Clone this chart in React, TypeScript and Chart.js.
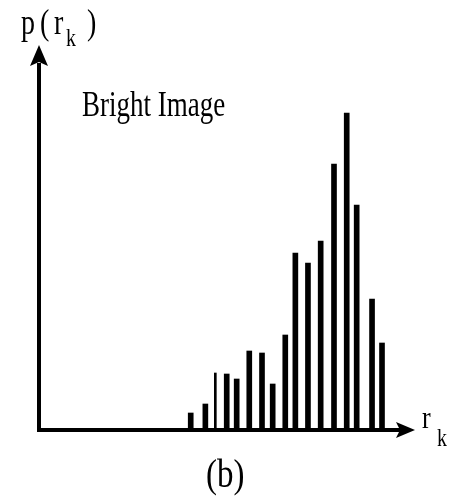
import React, { useEffect, useRef } from "react";
import { Chart, registerables } from "chart.js";

Chart.register(...registerables);

// Grey levels r_k (arbitrary units along the horizontal axis)
const levels = [12.56, 13.78, 14.61, 15.56, 16.39, 17.44, 18.5, 19.39, 20.44, 21.28, 22.33, 23.39, 24.5, 25.56, 26.39, 27.67, 28.5];
// Histogram heights p(r_k) (arbitrary units)
const probs = [17, 26, 57, 56, 51, 79, 77, 46, 95, 177, 167, 189, 266, 317, 225, 131, 87];
// Which bar is drawn thin
const thinIndex = [2];

const xMax = 31.25;
const yMax = 385;

const titleText = "Bright Image";
const captionText = "(b)";

const SERIF = '"Liberation Serif", "Times New Roman", serif';

function drawText(ctx: CanvasRenderingContext2D, text: string, x: number, y: number, size: number, sy: number) {
  ctx.save();
  ctx.translate(x, y);
  ctx.scale(1, sy);
  ctx.font = `${size}px ${SERIF}`;
  ctx.textAlign = "left";
  ctx.textBaseline = "alphabetic";
  ctx.fillStyle = "#000";
  ctx.fillText(text, 0, 0);
  ctx.restore();
}

const decorPlugin = {
  id: "decor",
  afterDatasetsDraw(chart: any) {
    const ctx: CanvasRenderingContext2D = chart.ctx;
    const xs = chart.scales.x;
    const ys = chart.scales.y;
    const x0 = xs.getPixelForValue(0);
    const y0 = ys.getPixelForValue(0);
    const xEnd = xs.getPixelForValue(xMax);
    const yTop = ys.getPixelForValue(yMax);
    ctx.save();
    ctx.fillStyle = "#000";
    ctx.strokeStyle = "#000";
    ctx.lineWidth = 4;
    ctx.lineCap = "butt";
    // y axis
    ctx.beginPath();
    ctx.moveTo(x0 - 1, y0 + 2);
    ctx.lineTo(x0 - 1, yTop + 18);
    ctx.stroke();
    // x axis
    ctx.beginPath();
    ctx.moveTo(x0 - 3, y0);
    ctx.lineTo(xEnd - 14, y0);
    ctx.stroke();
    // y arrow head
    ctx.beginPath();
    ctx.moveTo(x0 - 1, yTop);
    ctx.lineTo(x0 + 8, yTop + 21);
    ctx.lineTo(x0 - 1, yTop + 17);
    ctx.lineTo(x0 - 10, yTop + 21);
    ctx.closePath();
    ctx.fill();
    // x arrow head
    ctx.beginPath();
    ctx.moveTo(xEnd, y0);
    ctx.lineTo(xEnd - 19, y0 - 8);
    ctx.lineTo(xEnd - 15, y0);
    ctx.lineTo(xEnd - 19, y0 + 8);
    ctx.closePath();
    ctx.fill();
    ctx.restore();

    // texts
    drawText(ctx, "p", 21, 34, 28, 1.3);
    drawText(ctx, "(", 40, 34, 28, 1.3);
    drawText(ctx, "r", 54, 34, 28, 1.3);
    drawText(ctx, "k", 66, 46, 20, 1.25);
    drawText(ctx, ")", 87, 34, 28, 1.3);
    drawText(ctx, titleText, 82, 116, 27, 1.32);
    drawText(ctx, "r", 422, 428, 26, 1.2);
    drawText(ctx, "k", 437, 446, 20, 1.25);
    drawText(ctx, captionText, 206, 487, 33, 1.2);
  },
};

export default function App() {
  const ref = useRef<HTMLCanvasElement | null>(null);
  useEffect(() => {
    if (!ref.current) return;
    const wide = levels
      .map((x, i) => ({ x, y: probs[i] }))
      .filter((_, i) => !thinIndex.includes(i));
    const thin = levels
      .map((x, i) => ({ x, y: probs[i] }))
      .filter((_, i) => thinIndex.includes(i));
    const chart = new Chart(ref.current, {
      type: "bar",
      data: {
        datasets: [
          { data: wide, backgroundColor: "#000", barThickness: 5, grouped: false } as any,
          { data: thin, backgroundColor: "#000", barThickness: 2, grouped: false } as any,
        ],
      },
      options: {
        animation: false,
        responsive: false,
        devicePixelRatio: 1,
        layout: { padding: { left: 40, right: 34, top: 45, bottom: 68 } },
        plugins: { legend: { display: false }, tooltip: { enabled: false }, title: { display: false } },
        scales: {
          x: { type: "linear", min: 0, max: xMax, display: false, offset: false },
          y: { type: "linear", min: 0, max: yMax, display: false },
        },
      },
      plugins: [decorPlugin],
    });
    return () => chart.destroy();
  }, []);
  return (
    <div style={{ position: "absolute", left: 0, top: 0, width: 449, height: 498, background: "#fff" }}>
      <canvas ref={ref} width={449} height={498} style={{ width: 449, height: 498, display: "block" }} />
    </div>
  );
}
